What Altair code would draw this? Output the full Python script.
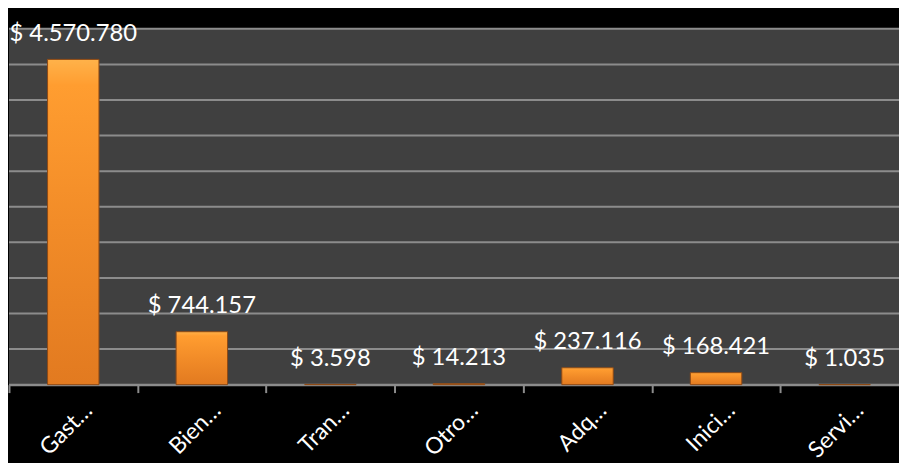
import altair as alt
import pandas as pd

categories = ["Gast…", "Bien…", "Tran…", "Otro…", "Adq…", "Inici…", "Servi…"]
values = [4570780, 744157, 3598, 14213, 237116, 168421, 1035]
value_labels = ["$ 4.570.780", "$ 744.157", "$ 3.598", "$ 14.213", "$ 237.116", "$ 168.421", "$ 1.035"]
y_ticks = [0, 500000, 1000000, 1500000, 2000000, 2500000, 3000000, 3500000, 4000000, 4500000, 5000000]

df = pd.DataFrame({"cat": categories, "value": values, "label": value_labels})
grid_df = pd.DataFrame({"tick": y_ticks})

y_scale = alt.Scale(domain=[0, 5000000], nice=False)

x_enc = alt.X(
    "cat:N",
    sort=None,
    title=None,
    scale=alt.Scale(range=[0, 908], paddingInner=0, paddingOuter=0),
    axis=alt.Axis(
        labelAngle=-45,
        labelColor="white",
        labelFont="Lato",
        labelFontSize=23,
        labelPadding=14,
        labelOffset=15,
        labelAlign="right",
        labelBaseline="middle",
        labelLimit=200,
        domainColor="#8c8c8c",
        domainWidth=2,
        tickColor="#8c8c8c",
        tickWidth=2,
        tickSize=8,
        tickBand="extent",
        grid=False,
    ),
)

grid = alt.Chart(grid_df).mark_rule(color="#8c8c8c", strokeWidth=2).encode(
    y=alt.Y("tick:Q", scale=y_scale, axis=None, title=None)
)

bars = alt.Chart(df).mark_bar(
    width=alt.RelativeBandSize(0.4),
    stroke="#8f4a14",
    strokeWidth=1,
    color=alt.Gradient(
        gradient="linear",
        stops=[
            alt.GradientStop(color="#ffb24a", offset=0),
            alt.GradientStop(color="#ff9d30", offset=0.08),
            alt.GradientStop(color="#f28c28", offset=0.5),
            alt.GradientStop(color="#e27a20", offset=1),
        ],
        x1=0, x2=0, y1=0, y2=1,
    ),
).encode(x=x_enc, y=alt.Y("value:Q", scale=y_scale, axis=None, title=None))

texts = alt.Chart(df).mark_text(
    color="white",
    font="Lato",
    fontSize=24,
    baseline="alphabetic",
    dy=-19,
).encode(x=alt.X("cat:N", sort=None), y=alt.Y("value:Q", scale=y_scale), text="label:N")

chart = (
    alt.layer(grid, bars, texts)
    .properties(
        width=898,
        height=359,
        background="black",
        autosize=alt.AutoSizeParams(type="none"),
        padding={"left": 1, "top": 19, "right": 0, "bottom": 77},
    )
    .configure_view(fill="#404040", stroke=None)
)

chart.save("out.html", embed_options={"renderer": "svg", "actions": False})
